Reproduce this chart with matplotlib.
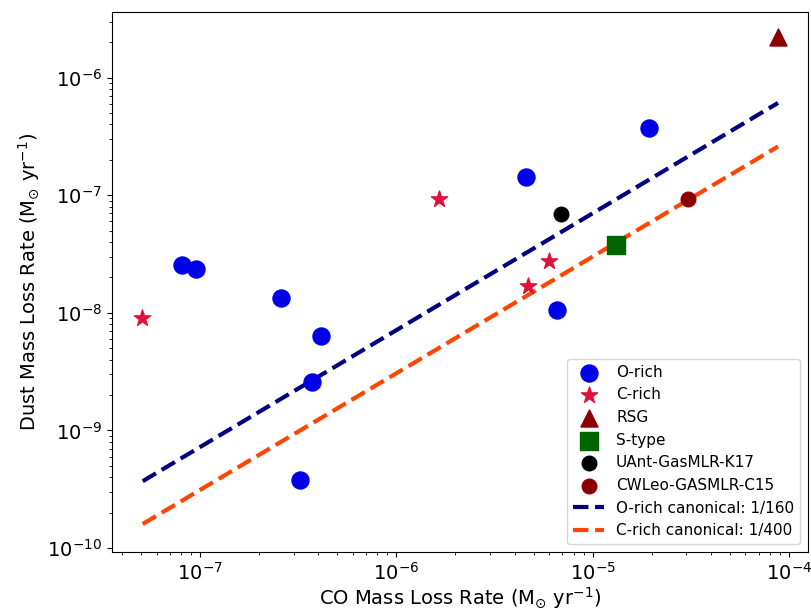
import numpy as np
import matplotlib
matplotlib.use("Agg")
from matplotlib import pyplot as plt

# values
orich_co = [8.1e-8, 9.5e-8, 2.57e-7, 4.13e-7, 3.7e-7, 3.21e-7, 4.6e-6, 6.6e-6, 1.93e-5]
orich_dust = [2.55e-8, 2.36e-8, 1.33e-8, 6.3e-9, 2.59e-9, 3.8e-10, 1.42e-7, 1.06e-8, 3.7e-7]

crich_co = [5.08e-8, 1.65e-6, 5.98e-6, 4.7e-6]
crich_dust = [9.0e-9, 9.25e-8, 2.74e-8, 1.70e-8]

rsg_co = [8.8e-5]
rsg_dust = [2.21e-6]

stype_co = [1.32e-5]
stype_dust = [3.77e-8]

uant_co = [6.87e-6]
uant_dust = [6.9e-8]

cwleo_co = [3.06e-5]
cwleo_dust = [9.25e-8]

line_co = [5.1e-8, 8.8e-5]
orich_line = [3.7e-10, 6.1e-7]
crich_line = [1.6e-10, 2.6e-7]

fig = plt.figure(figsize=(8.12, 6.14), dpi=100)
ax = fig.add_axes([0.138, 0.101, 0.857, 0.879])

ax.scatter(orich_co, orich_dust, s=150, color="#0000e6", label="O-rich", zorder=3)
ax.scatter(crich_co, crich_dust, s=150, marker="*", color="crimson", label="C-rich", zorder=3)
ax.scatter(rsg_co, rsg_dust, s=150, marker="^", color="darkred", label="RSG", zorder=3)
ax.scatter(stype_co, stype_dust, s=150, marker="s", color="darkgreen", label="S-type", zorder=3)
ax.scatter(uant_co, uant_dust, s=110, color="black", label="UAnt-GasMLR-K17", zorder=3)
ax.scatter(cwleo_co, cwleo_dust, s=110, color="#8b0000", label="CWLeo-GASMLR-C15", zorder=3)
ax.plot(line_co, orich_line, ls="--", lw=3, color="navy", label="O-rich canonical: 1/160", zorder=2)
ax.plot(line_co, crich_line, ls="--", lw=3, color="orangered", label="C-rich canonical: 1/400", zorder=2)

ax.set_xscale("log")
ax.set_yscale("log")
ax.set_xlim(3.56e-8, 1.25e-4)
ax.set_ylim(9.25e-11, 3.6e-6)
ax.tick_params(labelsize=14)
ax.set_xlabel(r"CO Mass Loss Rate (M$_{\odot}$ yr$^{-1}$)", fontsize=14, labelpad=1)
ax.set_ylabel(r"Dust Mass Loss Rate (M$_{\odot}$ yr$^{-1}$)", fontsize=14)
ax.legend(loc="lower right", fontsize=11)

fig.savefig("out.png", dpi=100)
